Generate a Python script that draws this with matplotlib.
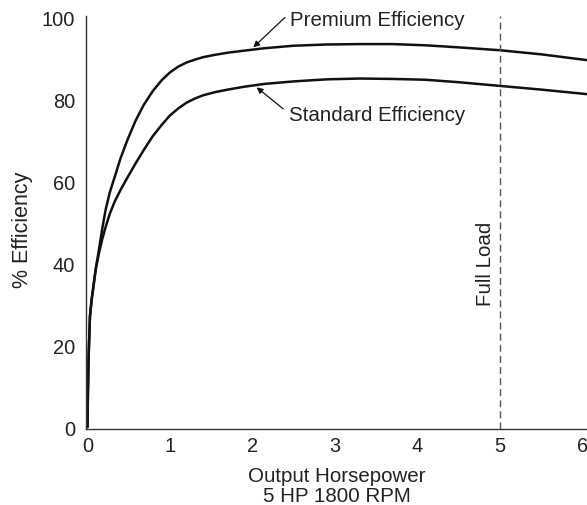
import matplotlib
matplotlib.use("Agg")
import matplotlib.pyplot as plt

plt.rcParams['font.family'] = ['Liberation Sans', 'DejaVu Sans']

# Data
hp = [0.0, 0.005, 0.015, 0.03, 0.05, 0.07, 0.1, 0.14, 0.18, 0.22, 0.27, 0.33,
      0.4, 0.48, 0.58, 0.68, 0.79, 0.9, 1.0, 1.1, 1.2, 1.3, 1.4, 1.55, 1.7,
      1.9, 2.15, 2.5, 2.9, 3.3, 3.7, 4.1, 4.5, 5.0, 5.5, 6.05]
premium = [0.0, 8.0, 18.0, 27.0, 31.0, 34.0, 38.5, 43.4, 48.5, 53.0, 57.2, 61.0,
           65.5, 69.8, 74.6, 78.5, 81.9, 84.6, 86.5, 87.9, 88.9, 89.6, 90.2, 90.8, 91.3,
           91.8, 92.4, 93.0, 93.3, 93.4, 93.4, 93.1, 92.6, 91.9, 90.9, 89.5]
standard = [0.0, 8.0, 18.0, 27.0, 31.0, 34.0, 38.5, 42.5, 45.9, 48.8, 52.0, 55.0,
            57.8, 60.7, 64.2, 67.5, 70.9, 73.7, 76.0, 77.7, 79.1, 80.1, 80.9, 81.7, 82.3,
            83.0, 83.7, 84.3, 84.8, 85.0, 84.9, 84.7, 84.1, 83.2, 82.3, 81.2]
xticks = [0, 1, 2, 3, 4, 5, 6]
yticks = [0, 20, 40, 60, 80, 100]
full_load = 5

fig = plt.figure(figsize=(5.87, 5.06), dpi=100)
ax = fig.add_axes([0.1465, 0.150, 0.8535, 0.816])

txt = '#222222'
ax.plot(hp, premium, color='#111111', lw=1.8, solid_capstyle='round', solid_joinstyle='round')
ax.plot(hp, standard, color='#111111', lw=1.8, solid_capstyle='round', solid_joinstyle='round')
ax.axvline(full_load, color='#555555', lw=1.0, dashes=(5, 3))

ax.set_xlim(-0.018, 6.055)
ax.set_ylim(-0.5, 100.2)
ax.set_xticks(xticks)
ax.set_yticks(yticks)
ax.tick_params(length=0, labelsize=14.4, colors=txt)
ax.tick_params(axis='y', pad=8)
ax.tick_params(axis='x', pad=5)

for s in ['top', 'right']:
    ax.spines[s].set_visible(False)
for s in ['left', 'bottom']:
    ax.spines[s].set_color('#333333')
    ax.spines[s].set_linewidth(1.0)

ax.set_xlabel('Output Horsepower\n5 HP 1800 RPM', fontsize=14.8, color=txt,
              linespacing=1.05, labelpad=8)
ax.set_ylabel('% Efficiency', fontsize=15.5, color=txt)
ax.yaxis.set_label_coords(-0.106, 0.484)

arrow = dict(arrowstyle='-|>', color='#111111', lw=0.9, mutation_scale=9,
             shrinkA=0, shrinkB=0)
ax.annotate('', xy=(2.01, 92.6), xytext=(2.394, 99.9), arrowprops=arrow)
ax.annotate('', xy=(2.05, 82.85), xytext=(2.373, 77.6), arrowprops=arrow)
ax.text(2.455, 99.5, 'Premium Efficiency', fontsize=14.8, color=txt,
        ha='left', va='center')
ax.text(2.44, 76.3, 'Standard Efficiency', fontsize=14.8, color=txt,
        ha='left', va='center')
ax.text(4.82, 40, 'Full Load', rotation=90, fontsize=14.8, color=txt,
        ha='center', va='center')

fig.savefig('out.png', dpi=100)
